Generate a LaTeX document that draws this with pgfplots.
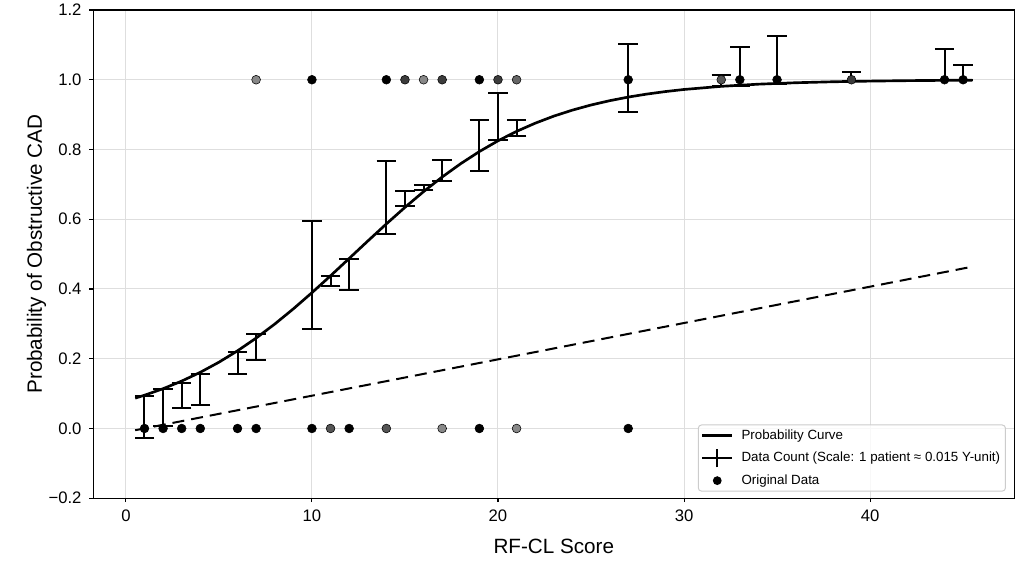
\documentclass[border=0pt]{standalone}
\usepackage{fontspec}
\setmainfont{Liberation Sans}
\usepackage{pgfplots}
\pgfplotsset{compat=1.18}
\definecolor{gridc}{HTML}{DEDEDE}
\definecolor{legc}{HTML}{CCCCCC}
\definecolor{gA}{HTML}{3C3C3C}
\definecolor{gB}{HTML}{555555}
\definecolor{gC}{HTML}{666666}
\definecolor{gD}{HTML}{888888}
\begin{document}
\begin{tikzpicture}
\begin{axis}[
  scale only axis, width=690.75pt, height=366.2pt,
  xmin=-1.75, xmax=47.75, ymin=-0.2, ymax=1.2,
  xtick={0,10,20,30,40}, xticklabels={0,10,20,30,40},
  ytick={-0.2,0,0.2,0.4,0.6,0.8,1.0,1.2},
  yticklabels={−0.2,0.0,0.2,0.4,0.6,0.8,1.0,1.2},
  tick align=outside, major tick length=3pt, tick pos=left,
  every tick/.style={black, line width=0.8pt},
  grid=major, grid style={gridc, line width=0.75pt},
  axis line style={black, line width=0.8pt},
  ticklabel style={font=\fontsize{12.5}{15}\selectfont},
  xticklabel style={inner sep=0pt, anchor=north, yshift=-5.25pt},
  yticklabel style={inner sep=0pt, anchor=east, xshift=-5.7pt},
  xlabel={RF-CL Score}, ylabel={Probability of Obstructive CAD},
  every axis x label/.style={at={([yshift=-41.25pt]axis description cs:0.5,0)}, anchor=base, font=\fontsize{15.5}{18}\selectfont},
  every axis y label/.style={at={([xshift=-38.5pt]axis description cs:0,0.5)}, rotate=90, anchor=base, font=\fontsize{15.5}{18}\selectfont},
  legend style={at={(0.991,0.0135)}, anchor=south east, draw=legc, line width=0.75pt, rounded corners=2.5pt,
    fill=white, fill opacity=0.8, draw opacity=1, text opacity=1,
    font=\fontsize{10}{12}\selectfont, inner xsep=2pt, inner ysep=1.5pt, row sep=4.2pt,
    /tikz/every odd column/.append style={column sep=4pt}},
  legend cell align=left,
]
\addplot[black, line width=2pt, line join=round,
  legend image code/.code={\draw[black, line width=2pt, draw opacity=1] (0pt,0pt) -- (22.5pt,0pt);}]
coordinates {(0.5,0.0871)(1,0.0953)(2,0.1141)(3,0.1359)(4,0.1611)(5,0.1900)(6,0.2227)(7,0.2592)(8,0.2994)(9,0.3430)(10,0.3894)(11,0.4378)(12,0.4875)(13,0.5374)(14,0.5866)(15,0.6341)(16,0.6792)(17,0.7211)(18,0.7595)(19,0.7941)(20,0.8249)(21,0.8520)(22,0.8754)(23,0.8957)(24,0.9129)(25,0.9276)(26,0.9399)(27,0.9503)(28,0.9589)(29,0.9661)(30,0.9721)(32,0.9811)(34,0.9873)(36,0.9914)(38,0.9942)(40,0.9961)(42,0.9974)(44,0.9983)(45.5,0.9987)};
\addlegendentry{Probability Curve}
\addplot[black, line width=1.5pt, dash pattern=on 9pt off 5.25pt, forget plot]
coordinates {(0.5,-0.005)(45.5,0.464)};
\addplot[draw=none, mark=none,
  legend image code/.code={\draw[black, line width=1.5pt, draw opacity=1] (0pt,0pt) -- (22.5pt,0pt); \draw[black, line width=1.5pt, draw opacity=1, overlay] (11.25pt,-7pt) -- (11.25pt,7pt);},
  error bars/.cd, y dir=both, y explicit,
  error bar style={line width=1.5pt, draw=black, solid},
  error mark options={rotate=90, line width=1.5pt, mark size=7.3pt, draw=black, solid}]
coordinates {
(1,0.0335) +- (0,0.0595)
(2,0.0600) +- (0,0.0526)
(3,0.0949) +- (0,0.0369)
(4,0.1119) +- (0,0.0452)
(6,0.1887) +- (0,0.0317)
(7,0.2340) +- (0,0.0380)
(10,0.4400) +- (0,0.1560)
(11,0.4224) +- (0,0.0144)
(12,0.4422) +- (0,0.0452)
(14,0.6625) +- (0,0.1035)
(15,0.6595) +- (0,0.0225)
(16,0.6900) +- (0,0.0070)
(17,0.7400) +- (0,0.0310)
(19,0.8120) +- (0,0.0730)
(20,0.8955) +- (0,0.0675)
(21,0.8620) +- (0,0.0230)
(27,1.0050) +- (0,0.0980)
(32,0.9975) +- (0,0.0165)
(33,1.0380) +- (0,0.0550)
(35,1.0565) +- (0,0.0675)
(39,1.0090) +- (0,0.0140)
(44,1.0430) +- (0,0.0450)
(45,1.0210) +- (0,0.0220)
};
\addlegendentry{Data Count (Scale: 1 patient ≈ 0.015 Y-unit)}
\addplot[only marks, mark=*, mark size=3.3pt, black, mark options={draw=none, fill=black},
  legend image code/.code={\path[draw=none] (0pt,0pt) -- (22.5pt,0pt); \fill[black, fill opacity=1, draw=none] (11.25pt,0pt) circle (3.3pt);}]
coordinates {(1,0)(2,0)(3,0)(4,0)(6,0)(7,0)(10,0)(12,0)(19,0)(27,0)
(10,1)(14,1)(19,1)(27,1)(33,1)(35,1)(44,1)(45,1)};
\addlegendentry{Original Data}
\addplot[only marks, mark=*, mark size=3.3pt, forget plot, mark options={draw=none, fill=gA}]
coordinates {(15,1)(17,1)(20,1)(39,1)};
\addplot[only marks, mark=*, mark size=3.3pt, forget plot, mark options={draw=none, fill=gB}]
coordinates {(11,0)(14,0)(32,1)};
\addplot[only marks, mark=*, mark size=3.3pt, forget plot, mark options={draw=none, fill=gC}]
coordinates {(21,1)};
\addplot[only marks, mark=*, mark size=3.3pt, forget plot, mark options={draw=none, fill=gD}]
coordinates {(17,0)(21,0)(7,1)(16,1)};
\end{axis}
\pgfresetboundingbox
\path[use as bounding box] ([shift={(-70pt,-49.3pt)}]current axis.south west) rectangle ([shift={(7.3pt,7.5pt)}]current axis.north east);
\end{tikzpicture}
\end{document}
